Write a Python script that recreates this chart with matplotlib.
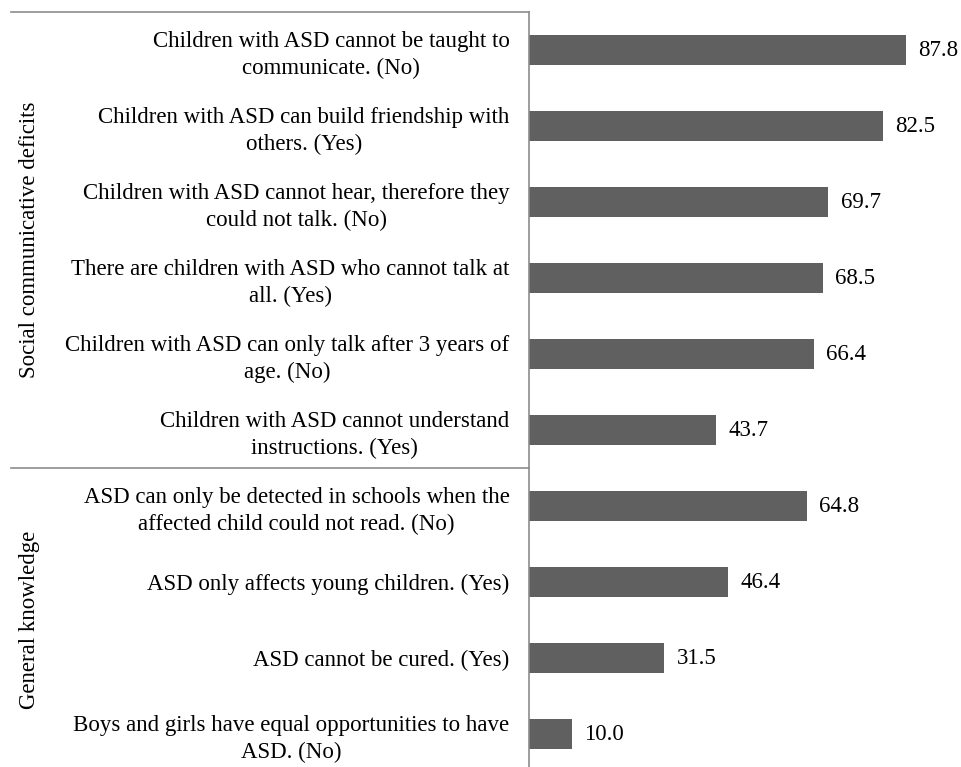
import matplotlib
matplotlib.use("Agg")
import matplotlib.pyplot as plt
import matplotlib.transforms as mtransforms

categories = [
    "Children with ASD cannot be taught to\ncommunicate. (No)",
    "Children with ASD can build friendship with\nothers. (Yes)",
    "Children with ASD cannot hear, therefore they\ncould not talk. (No)",
    "There are children with ASD who cannot talk at\nall. (Yes)",
    "Children with ASD can only talk after 3 years of\nage. (No)",
    "Children with ASD cannot understand\ninstructions. (Yes)",
    "ASD can only be detected in schools when the\naffected child could not read. (No)",
    "ASD only affects young children. (Yes)",
    "ASD cannot be cured. (Yes)",
    "Boys and girls have equal opportunities to have\nASD. (No)",
]
values = [87.8, 82.5, 69.7, 68.5, 66.4, 43.7, 64.8, 46.4, 31.5, 10.0]
groups = ["Social communicative deficits", "General knowledge"]
group_sizes = [6, 4]

plt.rcParams["font.family"] = ["Liberation Serif", "DejaVu Serif"]
FS = 16.5
W, H = 961, 767
fig = plt.figure(figsize=(W / 100, H / 100), dpi=100)
ax_left, ax_right, ax_top = 529, 958, 12
slot = 76.0
ax = fig.add_axes([ax_left / W, 0, (ax_right - ax_left) / W, (H - ax_top) / H])

pos = list(range(len(values)))
bars = ax.barh(pos, values, height=0.4, color="#606060")
ax.set_xlim(0, 100)
ax.set_ylim(-0.5 + (H - ax_top) / slot, -0.5)

for s in ["top", "right", "bottom"]:
    ax.spines[s].set_visible(False)
ax.spines["left"].set_color("#8c8c8c")
ax.spines["left"].set_linewidth(1.2)
ax.set_xticks([])
ax.set_yticks(pos)
ax.set_yticklabels(categories, fontsize=FS)
for lbl in ax.get_yticklabels():
    lbl.set_multialignment("center")
    lbl.set_linespacing(1.35)
ax.tick_params(axis="y", length=0, pad=14)

ax.bar_label(bars, fmt="%.1f", padding=9, fontsize=FS)

# group separators and labels
trans = mtransforms.blended_transform_factory(ax.transAxes, ax.transData)
x0 = (11 - ax_left) / (ax_right - ax_left)
start = -0.5
for g, n in zip(groups, group_sizes):
    ax.plot([x0, 0], [start, start], transform=trans, color="#8c8c8c",
            lw=1.2, clip_on=False)
    ax.text((30 - ax_left) / (ax_right - ax_left), start + n / 2, g,
            transform=trans, rotation=90, ha="center", va="center",
            fontsize=FS)
    start += n

fig.savefig("out.png", dpi=100)
